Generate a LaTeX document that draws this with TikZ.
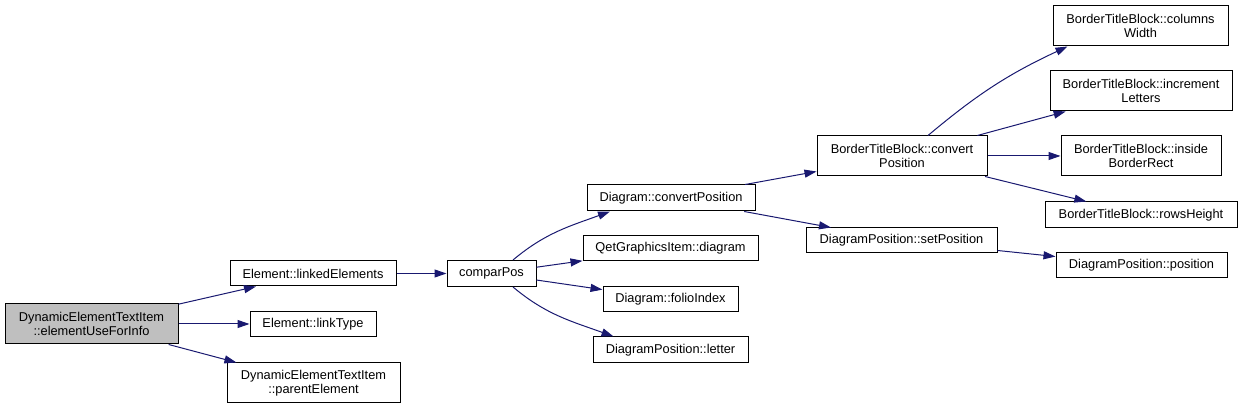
\documentclass[tikz,border=0pt]{standalone}
\usepackage{fontspec}
\setmainfont{Liberation Sans}
\usetikzlibrary{arrows.meta}

\definecolor{callblue}{HTML}{191970}
\definecolor{rootgray}{HTML}{BFBFBF}

\tikzset{
  fn/.style={draw=black, line width=1pt, fill=white, align=center, inner sep=2pt,
    font=\fontsize{12.8}{14}\selectfont},
  call/.style={draw=callblue, line width=1pt, -{Triangle[length=12pt,width=8pt]}}
}

% (name, x, y, width, height, text)
\newcommand{\fnode}[6]{
    \node[fn, minimum width=#4pt, minimum height=#5pt] (#1) at (#2,#3) {#6};
}

\begin{document}
\begin{tikzpicture}[x=1pt, y=1pt]

  \useasboundingbox (0,0) rectangle (1243,409);

  \node[fn, fill=rootgray, minimum width=173pt, minimum height=40pt] (root) at (91.5,85)
    {DynamicElementTextItem\\::elementUseForInfo};

  \fnode{linked}{313}{135.5}{166}{25}{Element::linkedElements}
  \fnode{ltype}{313}{85}{126}{25}{Element::linkType}
  \fnode{parent}{313.5}{26}{173}{40}{DynamicElementTextItem\\::parentElement}

  \fnode{cmp}{491.5}{135.5}{89}{26}{comparPos}

  \fnode{conv}{671}{211}{168}{26}{Diagram::convertPosition}
  \fnode{qdiag}{670.5}{160.5}{175}{25}{QetGraphicsItem::diagram}
  \fnode{folio}{670.5}{109.5}{135}{25}{Diagram::folioIndex}
  \fnode{letter}{670.5}{59}{155}{26}{DiagramPosition::letter}

  \fnode{btbconv}{902}{253}{170}{40}{BorderTitleBlock::convert\\Position}
  \fnode{setpos}{901.5}{168.5}{191}{25}{DiagramPosition::setPosition}

  \fnode{colw}{1140.5}{383}{175}{40}{BorderTitleBlock::columns\\Width}
  \fnode{incl}{1141}{318}{182}{40}{BorderTitleBlock::increment\\Letters}
  \fnode{inside}{1141}{253}{160}{40}{BorderTitleBlock::inside\\BorderRect}
  \fnode{rowsh}{1141}{194}{192}{26}{BorderTitleBlock::rowsHeight}
  \fnode{pos}{1141.5}{143.5}{171}{25}{DiagramPosition::position}

  % calls
  \draw[call] (root) -- (linked);
  \draw[call] (root) -- (ltype);
  \draw[call] (root) -- (parent);
  \draw[call] (linked) -- (cmp);

  \draw[call] ([xshift=21.5pt]cmp.north) to[out=40, in=200] ([xshift=-61pt]conv.south);
  \draw[call] (cmp) -- (qdiag);
  \draw[call] (cmp) -- (folio);
  \draw[call] ([xshift=21.5pt]cmp.south) to[out=-40, in=160] ([xshift=-57pt]letter.north);

  \draw[call] (conv) -- (btbconv);
  \draw[call] (conv) -- (setpos);

  \draw[call] ([xshift=26pt]btbconv.north) to[out=40, in=205] ([xshift=-73pt]colw.south);
  \draw[call] (btbconv) -- (incl);
  \draw[call] (btbconv) -- (inside);
  \draw[call] (btbconv) -- (rowsh);
  \draw[call] (setpos) -- (pos);

\end{tikzpicture}
\end{document}
